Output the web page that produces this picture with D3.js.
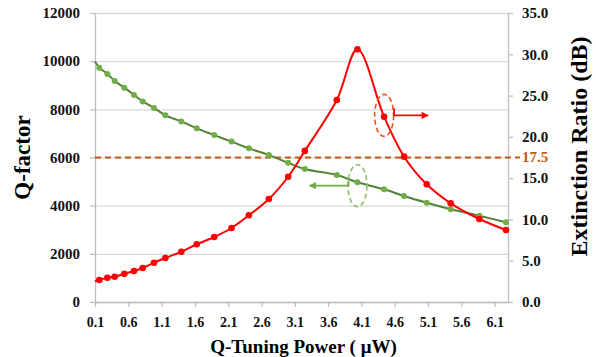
<!DOCTYPE html>
<html>
<head>
<meta charset="utf-8">
<script src="https://cdn.jsdelivr.net/npm/d3@7"></script>
<style>
  body { margin: 0; background: #fff; }
  svg text { font-family: "Liberation Serif", "Times New Roman", serif; font-weight: bold; }
</style>
</head>
<body>
<svg width="596" height="357"></svg>
<script>
// values
const power = [0.1, 0.165, 0.285, 0.396, 0.54, 0.686, 0.816, 0.986, 1.156, 1.396, 1.627, 1.89,
  2.15, 2.41, 2.71, 3.0, 3.25, 3.73, 4.04, 4.44, 4.74, 5.08, 5.44, 5.87, 6.27];
const qFactor = [9990, 9730, 9470, 9180, 8900, 8600, 8330, 8060, 7750, 7500, 7210, 6930,
  6660, 6380, 6100, 5780, 5520, 5270, 4970, 4680, 4400, 4120, 3850, 3580, 3310];
const extinction = [2.54, 2.66, 2.94, 3.06, 3.43, 3.75, 4.12, 4.76, 5.33, 6.09, 6.99, 7.87,
  8.96, 10.5, 12.47, 15.17, 18.3, 24.46, 30.6, 22.44, 17.6, 14.25, 11.95, 10.05, 8.72];
const xTicks = [0.1, 0.6, 1.1, 1.6, 2.1, 2.6, 3.1, 3.6, 4.1, 4.6, 5.1, 5.6, 6.1];
const qTicks = [0, 2000, 4000, 6000, 8000, 10000, 12000];
const erTicks = [0, 5, 10, 15, 20, 25, 30, 35];
const threshold = 17.5;
// annotation anchors (data space): which point each dashed ellipse circles
const redNote = { x: 4.44, y: 22.6 };
const greenNote = { x: 4.04, y: 4830 };

(function (d3) {
  'use strict';

  const svg = d3.select('svg');
  const margin = { top: 13, right: 88, bottom: 55, left: 95 };
  const width = +svg.attr('width');
  const height = +svg.attr('height');
  const innerWidth = width - margin.left - margin.right;
  const innerHeight = height - margin.top - margin.bottom;

  const xScale = d3.scaleLinear().domain([0.1, 6.3]).range([0, innerWidth]);
  const yLeft = d3.scaleLinear().domain([0, 12000]).range([innerHeight, 0]);
  const yRight = d3.scaleLinear().domain([0, 35]).range([innerHeight, 0]);

  const data = power.map((p, i) => ({ x: p, q: qFactor[i], er: extinction[i] }));

  const g = svg.append('g')
    .attr('transform', `translate(${margin.left},${margin.top})`);

  // gridlines
  g.append('g')
    .call(d3.axisLeft(yLeft).tickValues(qTicks).tickSize(-innerWidth).tickFormat(''))
    .call(s => s.select('.domain').remove())
    .selectAll('line').attr('stroke', '#d9d9d9').attr('stroke-width', 1.3);

  const styleAxis = s => {
    s.select('.domain').attr('stroke', '#bfbfbf').attr('stroke-width', 1.3);
    s.selectAll('.tick line').attr('stroke', '#bfbfbf').attr('stroke-width', 1.3);
    s.selectAll('.tick text').attr('fill', '#111');
  };

  const xAxisG = g.append('g')
    .attr('transform', `translate(0,${innerHeight})`)
    .call(d3.axisBottom(xScale).tickValues(xTicks).tickFormat(d3.format('.1f'))
      .tickSize(5).tickPadding(10).tickSizeOuter(0))
    .call(styleAxis);
  xAxisG.selectAll('.tick text').attr('font-size', 14);

  const yAxisG = g.append('g')
    .call(d3.axisLeft(yLeft).tickValues(qTicks).tickFormat(d3.format('d'))
      .tickSize(5).tickPadding(10).tickSizeOuter(0))
    .call(styleAxis);
  yAxisG.selectAll('.tick text').attr('font-size', 15);

  const y2AxisG = g.append('g')
    .attr('transform', `translate(${innerWidth},0)`)
    .call(d3.axisRight(yRight).tickValues(erTicks).tickFormat(d3.format('.1f'))
      .tickSize(5).tickPadding(9).tickSizeOuter(0))
    .call(styleAxis);
  y2AxisG.selectAll('.tick text').attr('font-size', 15);

  // axis titles
  g.append('text')
    .attr('transform', `translate(${30 - margin.left},${innerHeight / 2}) rotate(-90)`)
    .attr('text-anchor', 'middle')
    .attr('font-size', 23)
    .text('Q-factor');

  g.append('text')
    .attr('transform', `translate(${innerWidth + 79},${innerHeight / 2 - 11}) rotate(-90)`)
    .attr('text-anchor', 'middle')
    .attr('font-size', 24)
    .text('Extinction Ratio (dB)');

  g.append('text')
    .attr('x', innerWidth / 2 + 2)
    .attr('y', innerHeight + 51)
    .attr('text-anchor', 'middle')
    .attr('font-size', 19)
    .text('Q-Tuning Power ( μW)');

  // 17.5 dB threshold
  g.append('line')
    .attr('x1', 0)
    .attr('x2', innerWidth + 12)
    .attr('y1', yRight(threshold))
    .attr('y2', yRight(threshold))
    .attr('stroke', '#c55a11')
    .attr('stroke-width', 1.8)
    .attr('stroke-dasharray', '6,4');

  g.append('text')
    .attr('x', innerWidth + 14)
    .attr('y', yRight(threshold))
    .attr('dy', '0.32em')
    .attr('font-size', 15)
    .attr('fill', '#c55a11')
    .text(d3.format('.1f')(threshold));

  // series
  const qLine = d3.line().x(d => xScale(d.x)).y(d => yLeft(d.q)).curve(d3.curveCatmullRom);
  const erLine = d3.line().x(d => xScale(d.x)).y(d => yRight(d.er)).curve(d3.curveCatmullRom);
  const markers = data.filter(d => d.x > xScale.domain()[0]);

  g.append('path')
    .datum(data)
    .attr('d', qLine)
    .attr('fill', 'none')
    .attr('stroke', '#548235')
    .attr('stroke-width', 2);

  g.selectAll('.q-dot').data(markers).enter().append('circle')
    .attr('class', 'q-dot')
    .attr('cx', d => xScale(d.x))
    .attr('cy', d => yLeft(d.q))
    .attr('r', 3)
    .attr('fill', '#70ad47');

  g.append('path')
    .datum(data)
    .attr('d', erLine)
    .attr('fill', 'none')
    .attr('stroke', '#ff0000')
    .attr('stroke-width', 2);

  g.selectAll('.er-dot').data(markers).enter().append('circle')
    .attr('class', 'er-dot')
    .attr('cx', d => xScale(d.x))
    .attr('cy', d => yRight(d.er))
    .attr('r', 3.3)
    .attr('fill', '#ff0000');

  // arrowheads
  const defs = svg.append('defs');
  [['arrow-red', '#ff0000'], ['arrow-green', '#70ad47']].forEach(([id, color]) => {
    defs.append('marker')
      .attr('id', id)
      .attr('viewBox', '0 0 10 10')
      .attr('refX', 9)
      .attr('refY', 5)
      .attr('markerWidth', 4.5)
      .attr('markerHeight', 4)
      .attr('orient', 'auto')
      .append('path')
        .attr('d', 'M0,0L10,5L0,10Z')
        .attr('fill', color);
  });

  // red annotation: ellipse + arrow pointing to right axis
  const rx = xScale(redNote.x);
  const ry = yRight(redNote.y);
  g.append('ellipse')
    .attr('cx', rx).attr('cy', ry).attr('rx', 9.5).attr('ry', 21)
    .attr('fill', 'none')
    .attr('stroke', '#f4511e')
    .attr('stroke-width', 1.6)
    .attr('stroke-dasharray', '5,3');
  g.append('path')
    .attr('d', `M${rx + 10},${ry - 7}V${ry}H${rx + 44}`)
    .attr('fill', 'none')
    .attr('stroke', '#ff0000')
    .attr('stroke-width', 1.8)
    .attr('marker-end', 'url(#arrow-red)');

  // green annotation: ellipse + arrow pointing to left axis
  const gx = xScale(greenNote.x);
  const gy = yLeft(greenNote.y);
  g.append('ellipse')
    .attr('cx', gx).attr('cy', gy).attr('rx', 9.5).attr('ry', 21)
    .attr('fill', 'none')
    .attr('stroke', '#8cc068')
    .attr('stroke-width', 1.6)
    .attr('stroke-dasharray', '5,3');
  g.append('path')
    .attr('d', `M${gx - 9},${gy - 5}V${gy}H${gx - 48}`)
    .attr('fill', 'none')
    .attr('stroke', '#70ad47')
    .attr('stroke-width', 1.8)
    .attr('marker-end', 'url(#arrow-green)');

}(d3));
</script>
</body>
</html>
